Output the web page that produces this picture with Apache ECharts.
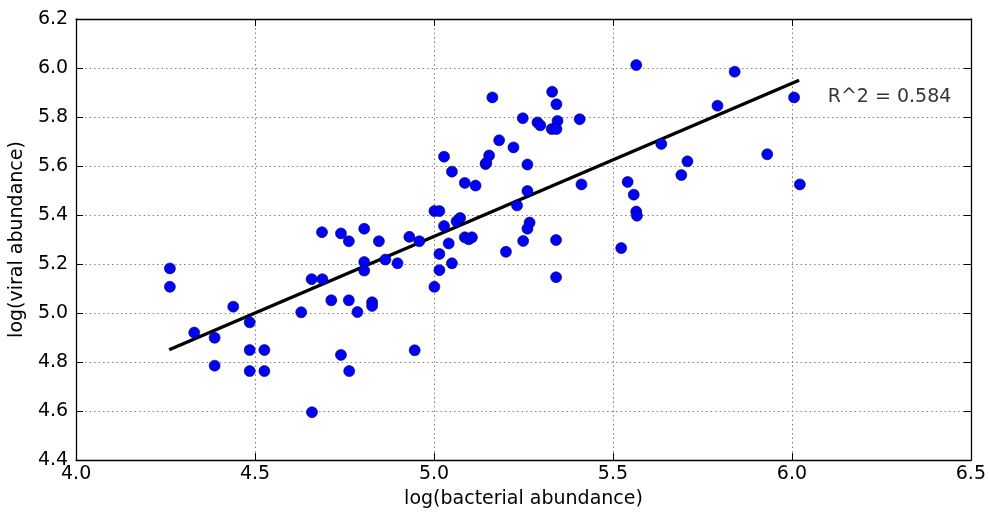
<!DOCTYPE html>
<html><head><meta charset="utf-8">
<script src="https://cdn.jsdelivr.net/npm/echarts@6/dist/echarts.min.js"></script>
<style>html,body{margin:0;padding:0;background:#fff}#c{width:989px;height:514px}</style>
</head><body><div id="c"></div>
<script>
// log(bacterial abundance)
const bacterial = [
  4.262, 4.262, 4.439, 4.330, 4.387, 4.387, 4.485, 4.485, 4.526, 4.485,
  4.526, 4.629, 4.659, 4.740, 4.763, 4.687, 4.740, 4.762, 4.805, 4.846,
  4.931, 4.959, 5.001, 5.015, 5.028, 5.041, 5.015, 5.015, 5.001, 5.050,
  4.805, 4.805, 4.864, 4.898, 4.658, 4.688, 4.713, 4.762, 4.786, 4.827,
  4.827, 4.946, 5.028, 5.050, 5.182, 5.222, 5.154, 5.144, 5.146, 5.261,
  5.086, 5.116, 5.261, 5.232, 5.063, 5.073, 5.267, 5.261, 5.086, 5.097,
  5.106, 5.201, 5.249, 5.341, 5.341, 5.523, 5.163, 5.330, 5.342, 5.248,
  5.289, 5.297, 5.345, 5.329, 5.342, 5.407, 5.565, 5.635, 5.541, 5.558,
  5.565, 5.567, 5.691, 5.708, 5.412, 5.840, 5.792, 6.006, 5.931, 6.022
];
// log(viral abundance)
const viral = [
  5.182, 5.107, 5.026, 4.920, 4.899, 4.785, 4.962, 4.849, 4.849, 4.763,
  4.763, 5.003, 4.595, 4.829, 4.763, 5.330, 5.325, 5.293, 5.344, 5.293,
  5.311, 5.293, 5.416, 5.416, 5.355, 5.284, 5.241, 5.175, 5.107, 5.203,
  5.208, 5.173, 5.218, 5.203, 5.138, 5.138, 5.052, 5.052, 5.004, 5.044,
  5.029, 4.848, 5.638, 5.577, 5.705, 5.676, 5.643, 5.608, 5.613, 5.606,
  5.531, 5.520, 5.498, 5.439, 5.374, 5.388, 5.369, 5.344, 5.309, 5.301,
  5.309, 5.250, 5.294, 5.298, 5.146, 5.265, 5.880, 5.903, 5.852, 5.795,
  5.778, 5.766, 5.784, 5.751, 5.751, 5.791, 6.012, 5.690, 5.535, 5.483,
  5.414, 5.397, 5.563, 5.619, 5.525, 5.985, 5.846, 5.880, 5.648, 5.525
];
// regression line end points
const fitX = [4.26, 6.02];
const fitY = [4.85, 5.95];
// annotation
const r2Text = 'R^2 = 0.584';
const r2Pos = [6.1, 5.882];
// axes
const xMin = 4.0, xMax = 6.5, xStep = 0.5;
const yMin = 4.4, yMax = 6.2, yStep = 0.2;
const xTitle = 'log(bacterial abundance)';
const yTitle = 'log(viral abundance)';

const FONT = 'DejaVu Sans';
const FS = 19;
const points = bacterial.map((b, i) => [b, viral[i]]);
const fit = fitX.map((x, i) => [x, fitY[i]]);

const gridLine = {show: true, lineStyle: {color: '#7f7f7f', type: [1.5, 3], width: 1}};
const axisLine = {show: true, onZero: false, lineStyle: {color: '#000', width: 1.3}};
const tick = {show: true, inside: true, length: 7, lineStyle: {color: '#000', width: 1}};
const fmt = v => v.toFixed(1);

const chart = echarts.init(document.getElementById('c'));
chart.setOption({
  animation: false,
  backgroundColor: '#fff',
  grid: {left: 75, right: 17, top: 19, bottom: 54, containLabel: false},
  xAxis: [
    {type: 'value', min: xMin, max: xMax, interval: xStep, position: 'bottom',
     name: xTitle, nameLocation: 'middle', nameGap: 30,
     nameTextStyle: {fontFamily: FONT, fontSize: FS, color: '#000'},
     axisLine: axisLine, axisTick: tick, splitLine: gridLine,
     axisLabel: {formatter: fmt, fontFamily: FONT, fontSize: FS, color: '#000', margin: 5}},
    {type: 'value', min: xMin, max: xMax, interval: xStep, position: 'top',
     axisLine: axisLine, axisTick: tick, splitLine: {show: false}, axisLabel: {show: false}}
  ],
  yAxis: [
    {type: 'value', min: yMin, max: yMax, interval: yStep, position: 'left',
     name: yTitle, nameLocation: 'middle', nameGap: 42, nameRotate: 90,
     nameTextStyle: {fontFamily: FONT, fontSize: FS, color: '#000'},
     axisLine: axisLine, axisTick: tick, splitLine: gridLine,
     axisLabel: {formatter: fmt, fontFamily: FONT, fontSize: FS, color: '#000', margin: 8}},
    {type: 'value', min: yMin, max: yMax, interval: yStep, position: 'right',
     axisLine: axisLine, axisTick: tick, splitLine: {show: false}, axisLabel: {show: false}}
  ],
  series: [
    {type: 'line', data: fit, symbol: 'none', lineStyle: {color: '#000', width: 3.5}, z: 3, silent: true},
    {type: 'scatter', data: points, symbol: 'circle', symbolSize: 11,
     itemStyle: {color: '#0000ff', borderColor: '#000033', borderWidth: 0.6, opacity: 1}, z: 4},
    {type: 'scatter', data: [r2Pos], symbolSize: 0, silent: true, z: 5,
     itemStyle: {color: '#000'},
     label: {show: true, position: 'right', distance: 0, formatter: r2Text,
             fontFamily: FONT, fontSize: FS, color: '#000'}}
  ]
});
</script>
</body></html>
